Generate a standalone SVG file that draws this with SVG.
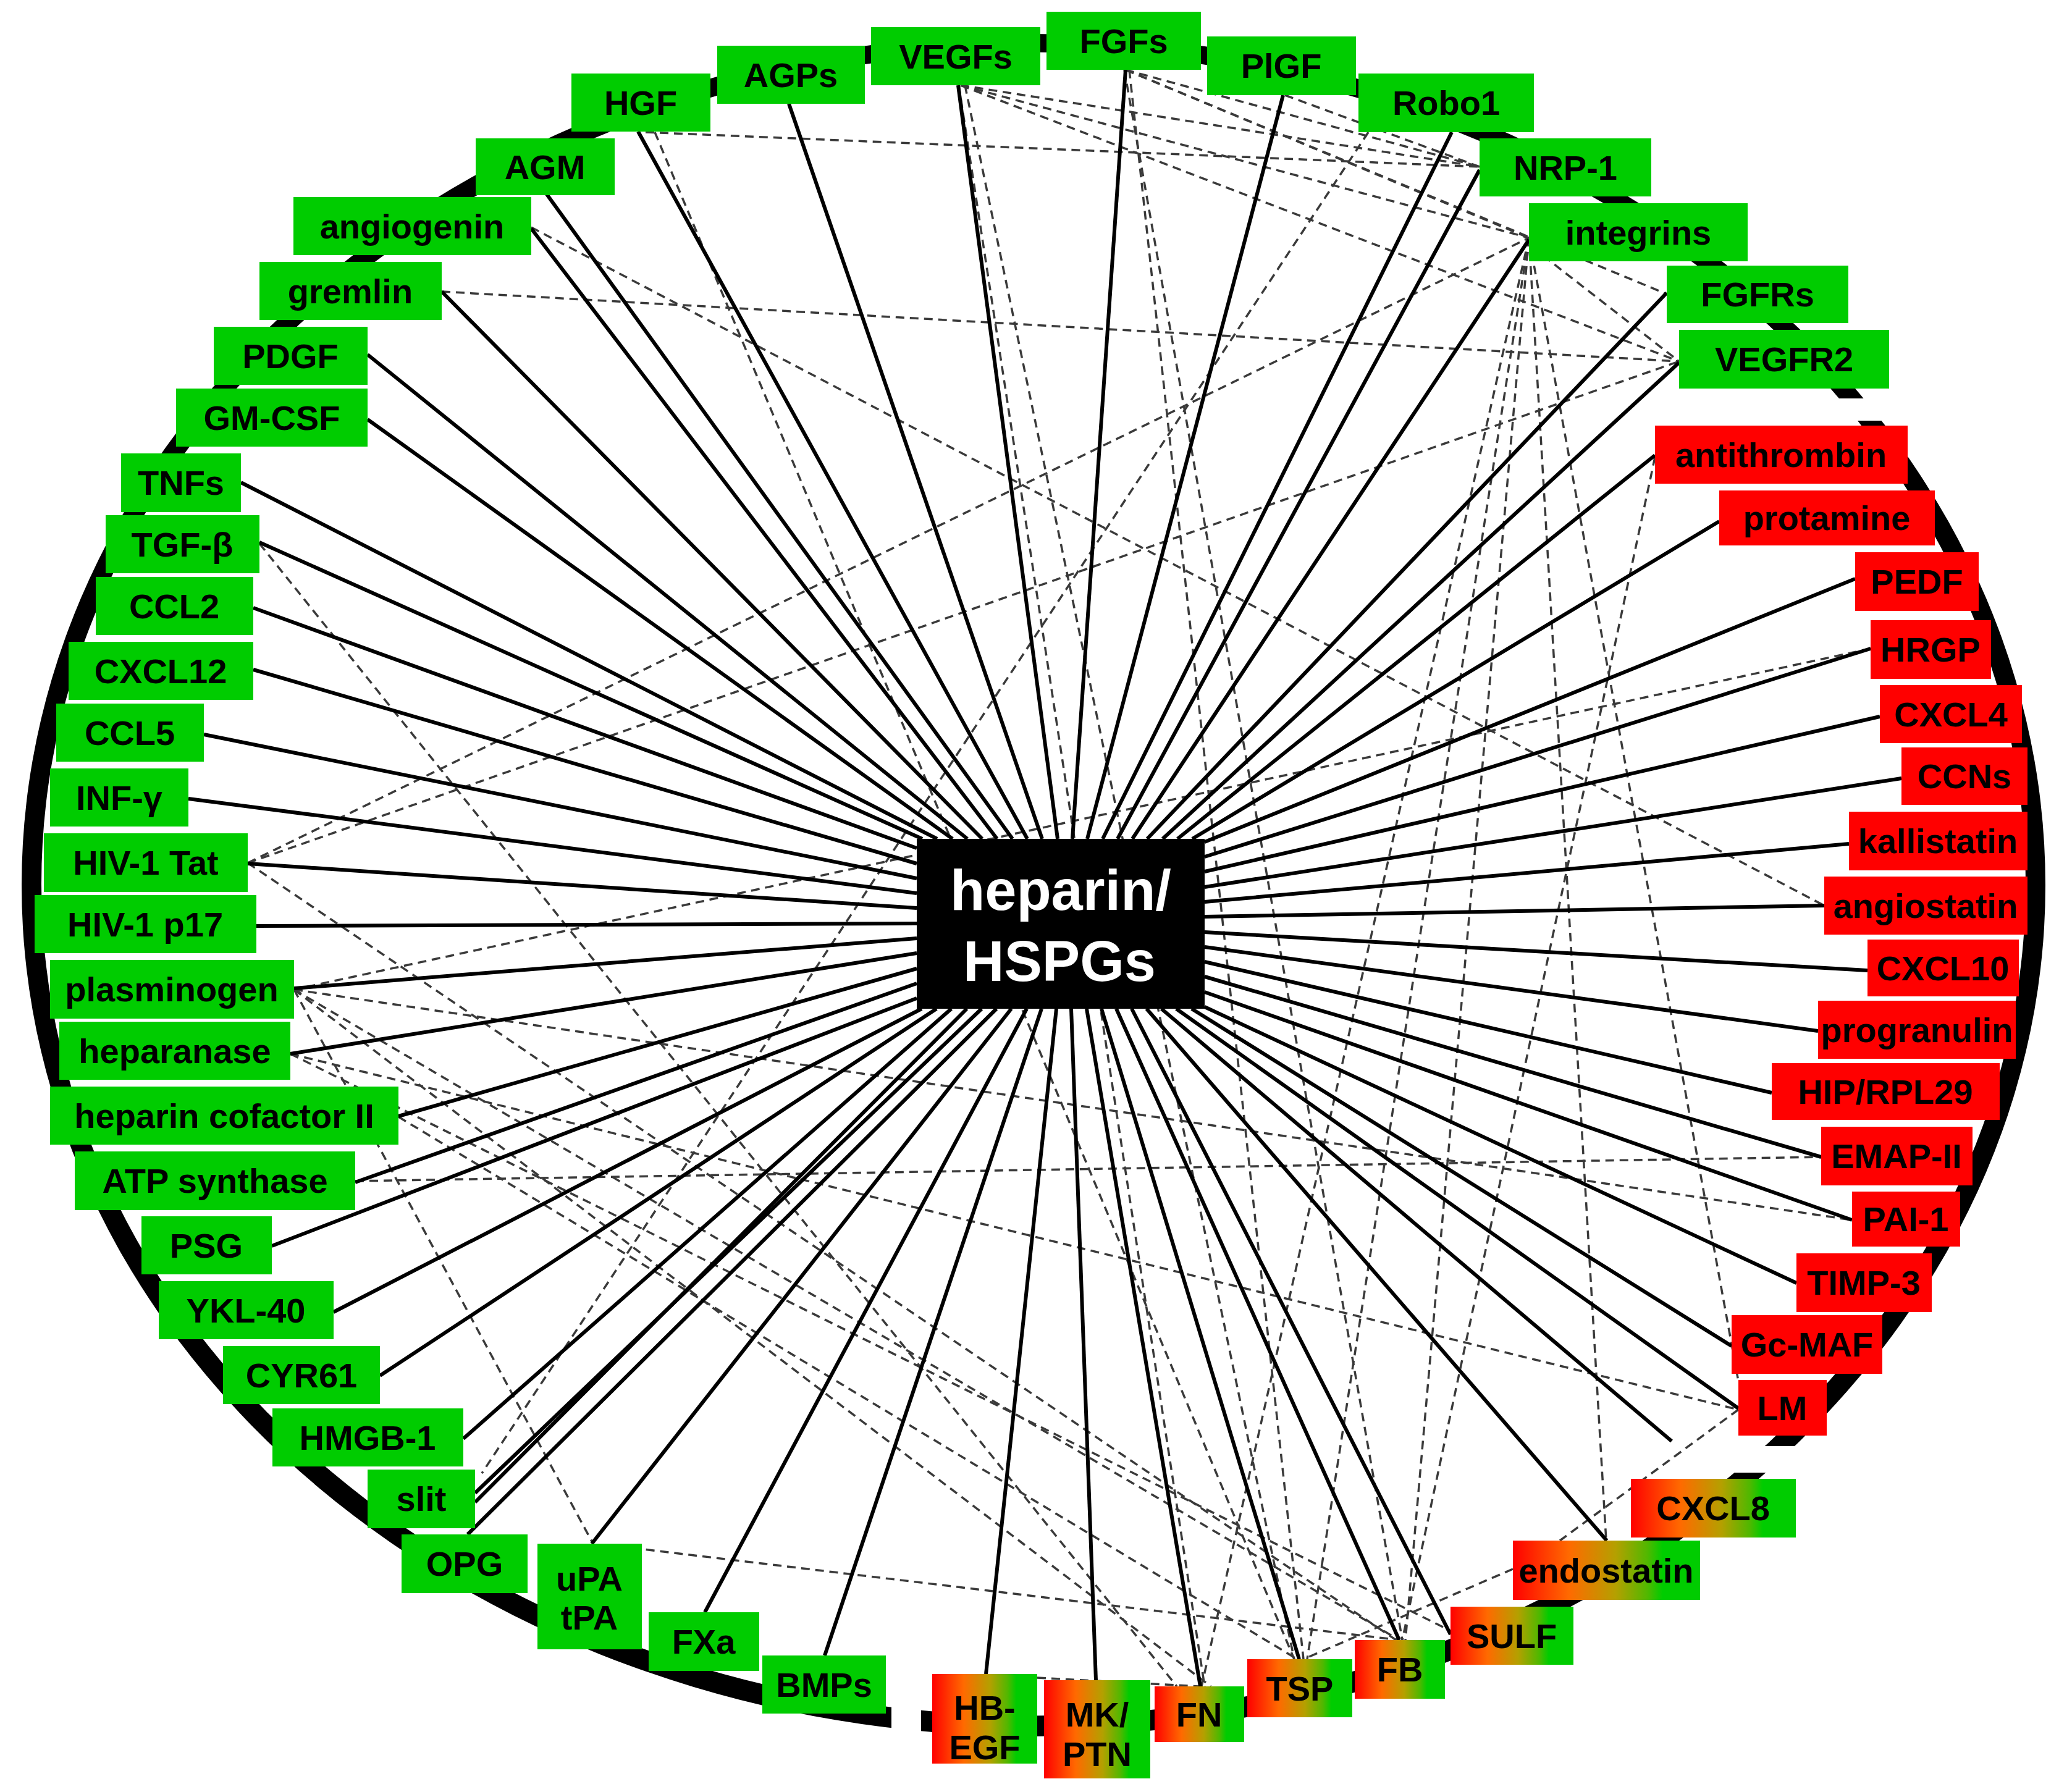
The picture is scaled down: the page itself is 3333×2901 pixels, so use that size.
<svg xmlns="http://www.w3.org/2000/svg" width="3333" height="2901" viewBox="0 0 3333 2901">
<style>
.g{fill:#00CC00}
.r{fill:#FF0000}
.m{fill:url(#mix)}
.t{font-family:"Liberation Sans",Arial,sans-serif;font-weight:bold;font-size:56px;text-anchor:middle;fill:#000}
.c{font-family:"Liberation Sans",Arial,sans-serif;font-weight:bold;font-size:92px;text-anchor:middle;fill:#fff}
.s line{stroke:#000;stroke-width:6;fill:none}
.d line{stroke:#3a3a3a;stroke-width:3.5;stroke-dasharray:14 9;fill:none}
</style>
<defs>
<linearGradient id="mix" x1="0" y1="0" x2="1" y2="0">
<stop offset="0" stop-color="#FF0000"/>
<stop offset="0.3" stop-color="#FF6A00"/>
<stop offset="0.55" stop-color="#B4A000"/>
<stop offset="0.72" stop-color="#50B800"/>
<stop offset="0.8" stop-color="#00CC00"/>
<stop offset="1" stop-color="#00CC00"/>
</linearGradient>
<mask id="gaps">
<rect width="3333" height="2901" fill="#fff"/>
<rect x="2900" y="645" width="250" height="36" fill="#000"/>
<rect x="2700" y="2341" width="300" height="43" fill="#000"/>
<rect x="1443" y="2700" width="48" height="200" fill="#000"/>
</mask>
</defs>
<rect width="3333" height="2901" fill="#fff"/>
<g id="ring" mask="url(#gaps)">
<path fill="#000" fill-rule="evenodd" d="M35,1433 A1638,1378 0 1,0 3311,1433 A1638,1378 0 1,0 35,1433 Z M67,1431 A1606,1346 0 1,0 3279,1431 A1606,1346 0 1,0 67,1431 Z"/>
</g>
<g id="connectors">
<g class="d">
<line x1="1045" y1="214" x2="2395" y2="270"/>
<line x1="1060" y1="214" x2="2095" y2="2686"/>
<line x1="860" y1="368" x2="2953" y2="1466"/>
<line x1="715" y1="472" x2="2718" y2="585"/>
<line x1="420" y1="880" x2="1905" y2="2730"/>
<line x1="401" y1="1397" x2="2475" y2="385"/>
<line x1="401" y1="1397" x2="2718" y2="585"/>
<line x1="401" y1="1397" x2="2260" y2="2655"/>
<line x1="1555" y1="138" x2="2395" y2="270"/>
<line x1="1555" y1="138" x2="2475" y2="385"/>
<line x1="1555" y1="138" x2="2718" y2="585"/>
<line x1="1562" y1="138" x2="2095" y2="2686"/>
<line x1="1552" y1="138" x2="1950" y2="2730"/>
<line x1="1822" y1="113" x2="2395" y2="270"/>
<line x1="1822" y1="113" x2="2475" y2="385"/>
<line x1="1822" y1="113" x2="2698" y2="476"/>
<line x1="1828" y1="113" x2="2110" y2="2686"/>
<line x1="1820" y1="113" x2="2270" y2="2655"/>
<line x1="2080" y1="154" x2="2395" y2="270"/>
<line x1="2475" y1="385" x2="1945" y2="2730"/>
<line x1="2475" y1="385" x2="2116" y2="2686"/>
<line x1="2475" y1="385" x2="2275" y2="2655"/>
<line x1="2475" y1="385" x2="2600" y2="2494"/>
<line x1="2475" y1="385" x2="2814" y2="2236"/>
<line x1="2480" y1="400" x2="2718" y2="585"/>
<line x1="2679" y1="740" x2="2270" y2="2655"/>
<line x1="3028" y1="1050" x2="476" y2="1602"/>
<line x1="476" y1="1602" x2="2998" y2="1975"/>
<line x1="476" y1="1602" x2="960" y2="2499"/>
<line x1="476" y1="1602" x2="2265" y2="2655"/>
<line x1="476" y1="1602" x2="1960" y2="2730"/>
<line x1="470" y1="1706" x2="2348" y2="2640"/>
<line x1="470" y1="1706" x2="2814" y2="2282"/>
<line x1="645" y1="1808" x2="2100" y2="2686"/>
<line x1="575" y1="1912" x2="2948" y2="1873"/>
<line x1="1000" y1="2503" x2="2265" y2="2655"/>
<line x1="2215" y1="214" x2="780" y2="2385"/>
<line x1="2814" y1="2282" x2="2525" y2="2494"/>
<line x1="2449" y1="2540" x2="2110" y2="2686"/>
<line x1="1679" y1="2716" x2="1940" y2="2730"/>
</g>
<g class="s">
<line x1="1335" y1="2680" x2="1686" y2="1633"/>
<line x1="1141" y1="2610" x2="1662" y2="1633"/>
<line x1="958" y1="2499" x2="1637" y2="1633"/>
<line x1="757" y1="2484" x2="1613" y2="1633"/>
<line x1="769" y1="2417" x2="1589" y2="1633"/>
<line x1="769" y1="2432" x2="1565" y2="1633"/>
<line x1="750" y1="2329" x2="1540" y2="1633"/>
<line x1="615" y1="2227" x2="1516" y2="1633"/>
<line x1="540" y1="2124" x2="1492" y2="1633"/>
<line x1="440" y1="2017" x2="1484" y2="1616"/>
<line x1="575" y1="1914" x2="1484" y2="1592"/>
<line x1="645" y1="1807" x2="1484" y2="1568"/>
<line x1="470" y1="1706" x2="1484" y2="1543"/>
<line x1="476" y1="1600" x2="1484" y2="1519"/>
<line x1="415" y1="1499" x2="1484" y2="1495"/>
<line x1="401" y1="1398" x2="1484" y2="1470"/>
<line x1="305" y1="1293" x2="1484" y2="1446"/>
<line x1="330" y1="1189" x2="1484" y2="1422"/>
<line x1="410" y1="1084" x2="1484" y2="1398"/>
<line x1="410" y1="984" x2="1484" y2="1373"/>
<line x1="420" y1="878" x2="1493" y2="1358"/>
<line x1="390" y1="781" x2="1517" y2="1358"/>
<line x1="595" y1="679" x2="1542" y2="1358"/>
<line x1="595" y1="574" x2="1566" y2="1358"/>
<line x1="715" y1="472" x2="1590" y2="1358"/>
<line x1="860" y1="370" x2="1614" y2="1358"/>
<line x1="884" y1="313" x2="1639" y2="1358"/>
<line x1="1033" y1="213" x2="1663" y2="1358"/>
<line x1="1277" y1="168" x2="1687" y2="1358"/>
<line x1="1551" y1="138" x2="1712" y2="1358"/>
<line x1="1822" y1="113" x2="1736" y2="1358"/>
<line x1="2077" y1="154" x2="1760" y2="1358"/>
<line x1="2350" y1="214" x2="1785" y2="1358"/>
<line x1="2395" y1="275" x2="1809" y2="1358"/>
<line x1="2475" y1="388" x2="1833" y2="1358"/>
<line x1="2698" y1="474" x2="1857" y2="1358"/>
<line x1="2718" y1="587" x2="1882" y2="1358"/>
<line x1="2679" y1="737" x2="1906" y2="1358"/>
<line x1="2783" y1="844" x2="1930" y2="1358"/>
<line x1="3003" y1="937" x2="1950" y2="1363"/>
<line x1="3028" y1="1050" x2="1950" y2="1387"/>
<line x1="3043" y1="1160" x2="1950" y2="1411"/>
<line x1="3078" y1="1260" x2="1950" y2="1436"/>
<line x1="2993" y1="1366" x2="1950" y2="1460"/>
<line x1="2953" y1="1466" x2="1950" y2="1484"/>
<line x1="3023" y1="1571" x2="1950" y2="1509"/>
<line x1="2943" y1="1669" x2="1950" y2="1533"/>
<line x1="2868" y1="1769" x2="1950" y2="1557"/>
<line x1="2948" y1="1873" x2="1950" y2="1581"/>
<line x1="2998" y1="1975" x2="1950" y2="1606"/>
<line x1="2908" y1="2077" x2="1950" y2="1630"/>
<line x1="2803" y1="2179" x2="1929" y2="1633"/>
<line x1="2814" y1="2280" x2="1904" y2="1633"/>
<line x1="2706" y1="2333" x2="1880" y2="1633"/>
<line x1="2601" y1="2494" x2="1856" y2="1633"/>
<line x1="2348" y1="2646" x2="1832" y2="1633"/>
<line x1="2265" y1="2655" x2="1807" y2="1633"/>
<line x1="2103" y1="2686" x2="1783" y2="1633"/>
<line x1="1943" y1="2730" x2="1759" y2="1633"/>
<line x1="1774" y1="2720" x2="1734" y2="1633"/>
<line x1="1596" y1="2710" x2="1710" y2="1633"/>
</g>
</g>
<g id="nodes">
<g id="n-HGF"><rect class="g" x="925" y="119" width="225" height="94"/><text class="t" x="1037" y="186">HGF</text></g>
<g id="n-AGPs"><rect class="g" x="1161" y="74" width="239" height="94"/><text class="t" x="1280" y="141">AGPs</text></g>
<g id="n-VEGFs"><rect class="g" x="1410" y="44" width="274" height="94"/><text class="t" x="1547" y="111">VEGFs</text></g>
<g id="n-FGFs"><rect class="g" x="1694" y="19" width="250" height="94"/><text class="t" x="1819" y="86">FGFs</text></g>
<g id="n-PlGF"><rect class="g" x="1954" y="59" width="241" height="95"/><text class="t" x="2074" y="126">PlGF</text></g>
<g id="n-Robo1"><rect class="g" x="2199" y="119" width="284" height="95"/><text class="t" x="2341" y="186">Robo1</text></g>
<g id="n-NRP1"><rect class="g" x="2395" y="224" width="278" height="94"/><text class="t" x="2534" y="291">NRP-1</text></g>
<g id="n-integrins"><rect class="g" x="2475" y="329" width="354" height="94"/><text class="t" x="2652" y="396">integrins</text></g>
<g id="n-FGFRs"><rect class="g" x="2698" y="430" width="294" height="93"/><text class="t" x="2845" y="496">FGFRs</text></g>
<g id="n-VEGFR2"><rect class="g" x="2718" y="534" width="340" height="95"/><text class="t" x="2888" y="601">VEGFR2</text></g>
<g id="n-AGM"><rect class="g" x="770" y="224" width="225" height="92"/><text class="t" x="882" y="290">AGM</text></g>
<g id="n-angiogenin"><rect class="g" x="475" y="319" width="385" height="94"/><text class="t" x="667" y="386">angiogenin</text></g>
<g id="n-gremlin"><rect class="g" x="420" y="424" width="295" height="94"/><text class="t" x="567" y="491">gremlin</text></g>
<g id="n-PDGF"><rect class="g" x="346" y="529" width="249" height="94"/><text class="t" x="470" y="596">PDGF</text></g>
<g id="n-GMCSF"><rect class="g" x="285" y="629" width="310" height="94"/><text class="t" x="440" y="696">GM-CSF</text></g>
<g id="n-TNFs"><rect class="g" x="196" y="734" width="194" height="95"/><text class="t" x="293" y="801">TNFs</text></g>
<g id="n-TGFb"><rect class="g" x="171" y="834" width="249" height="94"/><text class="t" x="295" y="901">TGF-β</text></g>
<g id="n-CCL2"><rect class="g" x="155" y="934" width="255" height="94"/><text class="t" x="282" y="1001">CCL2</text></g>
<g id="n-CXCL12"><rect class="g" x="111" y="1039" width="299" height="94"/><text class="t" x="260" y="1106">CXCL12</text></g>
<g id="n-CCL5"><rect class="g" x="91" y="1139" width="239" height="94"/><text class="t" x="210" y="1206">CCL5</text></g>
<g id="n-INFg"><rect class="g" x="81" y="1244" width="224" height="94"/><text class="t" x="193" y="1311">INF-γ</text></g>
<g id="n-Tat"><rect class="g" x="71" y="1349" width="330" height="95"/><text class="t" x="236" y="1416">HIV-1 Tat</text></g>
<g id="n-p17"><rect class="g" x="56" y="1449" width="359" height="94"/><text class="t" x="235" y="1516">HIV-1 p17</text></g>
<g id="n-plasminogen"><rect class="g" x="81" y="1554" width="395" height="95"/><text class="t" x="278" y="1621">plasminogen</text></g>
<g id="n-heparanase"><rect class="g" x="96" y="1654" width="374" height="94"/><text class="t" x="283" y="1721">heparanase</text></g>
<g id="n-HCII"><rect class="g" x="81" y="1759" width="564" height="94"/><text class="t" x="363" y="1826">heparin cofactor II</text></g>
<g id="n-ATP"><rect class="g" x="121" y="1864" width="454" height="95"/><text class="t" x="348" y="1931">ATP synthase</text></g>
<g id="n-PSG"><rect class="g" x="229" y="1969" width="211" height="94"/><text class="t" x="334" y="2036">PSG</text></g>
<g id="n-YKL40"><rect class="g" x="257" y="2074" width="283" height="94"/><text class="t" x="398" y="2141">YKL-40</text></g>
<g id="n-CYR61"><rect class="g" x="361" y="2179" width="254" height="94"/><text class="t" x="488" y="2246">CYR61</text></g>
<g id="n-HMGB1"><rect class="g" x="441" y="2280" width="309" height="94"/><text class="t" x="595" y="2347">HMGB-1</text></g>
<g id="n-slit"><rect class="g" x="595" y="2379" width="174" height="95"/><text class="t" x="682" y="2446">slit</text></g>
<g id="n-OPG"><rect class="g" x="650" y="2484" width="204" height="95"/><text class="t" x="752" y="2551">OPG</text></g>
<g id="n-uPA"><rect class="g" x="870" y="2499" width="169" height="171"/><text class="t" x="954" y="2575">uPA</text><text class="t" x="954" y="2638">tPA</text></g>
<g id="n-FXa"><rect class="g" x="1050" y="2610" width="179" height="95"/><text class="t" x="1139" y="2677">FXa</text></g>
<g id="n-BMPs"><rect class="g" x="1234" y="2680" width="200" height="94"/><text class="t" x="1334" y="2747">BMPs</text></g>
<g id="n-HBEGF"><rect class="m" x="1509" y="2710" width="170" height="145"/><text class="t" x="1594" y="2784">HB-</text><text class="t" x="1594" y="2848">EGF</text></g>
<g id="n-MKPTN"><rect class="m" x="1690" y="2720" width="172" height="159"/><text class="t" x="1776" y="2795">MK/</text><text class="t" x="1776" y="2859">PTN</text></g>
<g id="n-FN"><rect class="m" x="1869" y="2730" width="145" height="90"/><text class="t" x="1941" y="2795">FN</text></g>
<g id="n-TSP"><rect class="m" x="2019" y="2686" width="170" height="94"/><text class="t" x="2104" y="2753">TSP</text></g>
<g id="n-FB"><rect class="m" x="2193" y="2655" width="146" height="95"/><text class="t" x="2266" y="2722">FB</text></g>
<g id="n-SULF"><rect class="m" x="2348" y="2601" width="199" height="94"/><text class="t" x="2447" y="2668">SULF</text></g>
<g id="n-endostatin"><rect class="m" x="2449" y="2494" width="303" height="96"/><text class="t" x="2600" y="2562">endostatin</text></g>
<g id="n-CXCL8"><rect class="m" x="2640" y="2394" width="267" height="95"/><text class="t" x="2773" y="2461">CXCL8</text></g>
<g id="n-antithrombin"><rect class="r" x="2679" y="689" width="409" height="94"/><text class="t" x="2883" y="756">antithrombin</text></g>
<g id="n-protamine"><rect class="r" x="2783" y="794" width="349" height="89"/><text class="t" x="2957" y="858">protamine</text></g>
<g id="n-PEDF"><rect class="r" x="3003" y="894" width="200" height="95"/><text class="t" x="3103" y="961">PEDF</text></g>
<g id="n-HRGP"><rect class="r" x="3028" y="1004" width="195" height="95"/><text class="t" x="3125" y="1071">HRGP</text></g>
<g id="n-CXCL4"><rect class="r" x="3043" y="1109" width="230" height="94"/><text class="t" x="3158" y="1176">CXCL4</text></g>
<g id="n-CCNs"><rect class="r" x="3078" y="1210" width="204" height="93"/><text class="t" x="3180" y="1276">CCNs</text></g>
<g id="n-kallistatin"><rect class="r" x="2993" y="1314" width="289" height="95"/><text class="t" x="3137" y="1381">kallistatin</text></g>
<g id="n-angiostatin"><rect class="r" x="2953" y="1419" width="329" height="94"/><text class="t" x="3117" y="1486">angiostatin</text></g>
<g id="n-CXCL10"><rect class="r" x="3023" y="1521" width="245" height="92"/><text class="t" x="3145" y="1587">CXCL10</text></g>
<g id="n-progranulin"><rect class="r" x="2943" y="1620" width="320" height="94"/><text class="t" x="3103" y="1687">progranulin</text></g>
<g id="n-HIP"><rect class="r" x="2868" y="1721" width="369" height="92"/><text class="t" x="3052" y="1787">HIP/RPL29</text></g>
<g id="n-EMAP"><rect class="r" x="2948" y="1824" width="245" height="95"/><text class="t" x="3070" y="1891">EMAP-II</text></g>
<g id="n-PAI"><rect class="r" x="2998" y="1929" width="175" height="89"/><text class="t" x="3085" y="1993">PAI-1</text></g>
<g id="n-TIMP"><rect class="r" x="2908" y="2029" width="219" height="95"/><text class="t" x="3017" y="2096">TIMP-3</text></g>
<g id="n-GcMAF"><rect class="r" x="2803" y="2129" width="244" height="95"/><text class="t" x="2925" y="2196">Gc-MAF</text></g>
<g id="n-LM"><rect class="r" x="2814" y="2234" width="143" height="90"/><text class="t" x="2885" y="2299">LM</text></g>
<g id="n-center"><rect fill="#000" x="1484" y="1358" width="466" height="275"/><text class="c" x="1717" y="1473">heparin/</text><text class="c" x="1715" y="1588">HSPGs</text></g>
</g>
</svg>
